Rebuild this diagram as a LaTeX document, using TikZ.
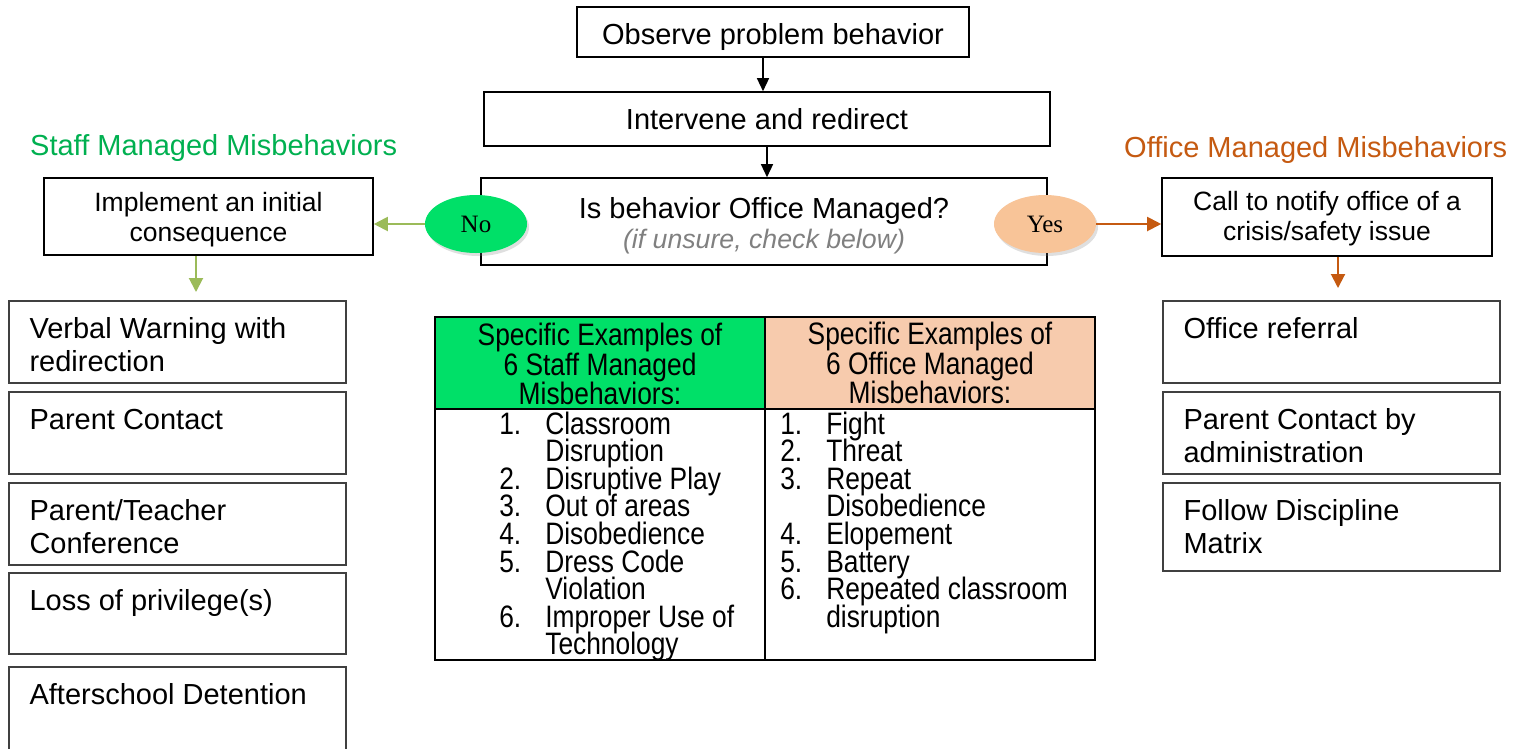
\documentclass[tikz,border=0pt]{standalone}
\usepackage{fontspec}
\setmainfont{Liberation Sans}
\newfontfamily\timesfont{Liberation Serif}
\newfontfamily\narrowfont{Liberation Sans}[FakeStretch=0.85]
\usetikzlibrary{arrows.meta,shadows,shapes.geometric}

\definecolor{nogreen}{RGB}{0,224,104}
\definecolor{yespeach}{RGB}{248,196,152}
\definecolor{hdrpeach}{RGB}{247,203,173}
\definecolor{oliveline}{RGB}{155,187,89}
\definecolor{rust}{RGB}{197,90,17}
\definecolor{staffgreen}{RGB}{0,176,80}
\definecolor{boxgray}{RGB}{64,64,64}
\definecolor{notegray}{RGB}{128,128,128}

% hanging-indent helpers for the numbered lists
\newcommand\num[1]{\makebox[46pt][l]{#1}}
\newcommand\cont{\hspace*{46pt}}
% fixed line pitch inside the parboxes
\newcommand\tabsetup{\narrowfont\fontsize{31}{27.6}\selectfont\lineskiplimit=-50pt\lineskip=0pt}
\newcommand\boxsetup{\fontsize{29}{33}\selectfont\lineskiplimit=-50pt\lineskip=0pt}

\begin{document}
\begin{tikzpicture}[x=1pt,y=-1pt,
  flowbox/.style={draw=black, line width=1.6pt, fill=white, inner sep=0pt},
  listbox/.style={draw=boxgray, line width=1.3pt, inner sep=0pt, minimum width=337pt},
  cellbox/.style={draw=black, line width=1.8pt, inner sep=0pt, minimum width=330pt},
  bigtext/.style={font=\fontsize{29}{33}\selectfont},
  midtext/.style={inner sep=0pt, font=\fontsize{26.5}{30}\selectfont, align=center},
  listtext/.style={anchor=base west, inner sep=0pt},
  tabtext/.style={inner sep=0pt},
  choice/.style={ellipse, minimum width=102pt, minimum height=58pt, inner sep=0pt,
    font=\timesfont\fontsize{25}{25}\selectfont,
    drop shadow={opacity=0.25, shadow xshift=2pt, shadow yshift=-3pt}},
  blackarrow/.style={draw=black, line width=1.4pt, -{Triangle[length=13pt,width=12pt]}},
  olivearrow/.style={draw=oliveline, line width=2pt, -{Triangle[length=14pt,width=14pt]}},
  rustarrow/.style={draw=rust, line width=2pt, -{Triangle[length=14pt,width=14pt]}},
]
\useasboundingbox (0,0) rectangle (1529,748);

% main flow
\node[flowbox, bigtext, minimum width=392pt, minimum height=50pt, text height=26pt, text depth=2pt] (obs) at (773,32) {Observe problem behavior};
\node[flowbox, bigtext, minimum width=566pt, minimum height=54pt] (intv) at (767,119) {Intervene and redirect};
\node[flowbox, minimum width=566pt, minimum height=87pt] (dec) at (764,221.5) {};
\node[inner sep=0pt, align=center] (dectxt) at ([yshift=-4.5pt]dec.center)
  {{\fontsize{29}{31}\selectfont Is behavior Office Managed?}\\[4pt]
   {\fontsize{26.7}{31}\selectfont\itshape\color{notegray}(if unsure, check below)}};

\draw[blackarrow] ([xshift=-10pt]obs.south) -- ([xshift=-10pt]obs.south |- intv.north);
\draw[blackarrow] (intv.south) -- (intv.south |- dec.north);

% choices
\node[choice, fill=nogreen] (no) at (476,224) {No};
\node[choice, fill=yespeach] (yes) at (1045,224) {Yes};

% staff managed branch
\node[anchor=west, inner sep=0pt, font=\fontsize{29}{33}\selectfont, text=staffgreen] (stafflbl) at (30,148) {Staff Managed Misbehaviors};
\node[flowbox, minimum width=329pt, minimum height=77pt] (impl) at (208.5,216.5) {};
\node[midtext] (impltxt) at ([yshift=-3pt]impl.center) {Implement an initial\\consequence};
\draw[olivearrow] (no.west) -- (no.west -| impl.east);
\coordinate (implend) at (196,292);
\draw[olivearrow] (impl.south -| implend) -- (implend);

% office managed branch
\node[anchor=west, inner sep=0pt, font=\fontsize{29}{33}\selectfont, text=rust] (officelbl) at (1124,150) {Office Managed Misbehaviors};
\node[flowbox, minimum width=330pt, minimum height=78pt] (call) at (1327,217) {};
\node[midtext] (calltxt) at ([yshift=-2pt]call.center) {Call to notify office of a\\crisis/safety issue};
\draw[rustarrow] (yes.east) -- (yes.east -| call.west);
\coordinate (callend) at (1338,288);
\draw[rustarrow] (call.south -| callend) -- (callend);

% staff consequences
\node[listbox, minimum height=82pt] (lb1) at (177.5,342) {};
\node[listbox, minimum height=82pt] (lb2) at (177.5,433) {};
\node[listbox, minimum height=82pt] (lb3) at (177.5,524) {};
\node[listbox, minimum height=81pt] (lb4) at (177.5,613.5) {};
\node[listbox, minimum height=93pt] (lb5) at (177.5,713.5) {};
\node[listtext] (lt1) at ([xshift=21pt,yshift=-38pt]lb1.north west) {\parbox[t]{310pt}{\boxsetup Verbal Warning with\\redirection}};
\node[listtext] (lt2) at ([xshift=21pt,yshift=-38pt]lb2.north west) {\parbox[t]{310pt}{\boxsetup Parent Contact}};
\node[listtext] (lt3) at ([xshift=21pt,yshift=-38pt]lb3.north west) {\parbox[t]{310pt}{\boxsetup Parent/Teacher\\Conference}};
\node[listtext] (lt4) at ([xshift=21pt,yshift=-38pt]lb4.north west) {\parbox[t]{310pt}{\boxsetup Loss of privilege(s)}};
\node[listtext] (lt5) at ([xshift=21pt,yshift=-38pt]lb5.north west) {\parbox[t]{310pt}{\boxsetup Afterschool Detention}};

% office consequences
\node[listbox, minimum height=82pt] (rb1) at (1331.5,342) {};
\node[listbox, minimum height=82pt] (rb2) at (1331.5,433) {};
\node[listbox, minimum height=88pt] (rb3) at (1331.5,527) {};
\node[listtext] (rt1) at ([xshift=21pt,yshift=-38pt]rb1.north west) {\parbox[t]{310pt}{\boxsetup Office referral}};
\node[listtext] (rt2) at ([xshift=21pt,yshift=-38pt]rb2.north west) {\parbox[t]{310pt}{\boxsetup Parent Contact by\\administration}};
\node[listtext] (rt3) at ([xshift=21pt,yshift=-38pt]rb3.north west) {\parbox[t]{310pt}{\boxsetup Follow Discipline\\Matrix}};

% examples table
\node[cellbox, fill=nogreen, minimum height=92pt] (hdrL) at (600,363) {};
\node[cellbox, fill=hdrpeach, minimum height=92pt] (hdrR) at (930,363) {};
\node[cellbox, minimum height=251pt] (bodyL) at (600,534.5) {};
\node[cellbox, minimum height=251pt] (bodyR) at (930,534.5) {};
\node[tabtext, align=center, font={\narrowfont\fontsize{31}{28}\selectfont}] (hdrLtxt) at ([yshift=-1pt]hdrL.center) {Specific Examples of\\6 Staff Managed\\Misbehaviors:};
\node[tabtext, align=center, font={\narrowfont\fontsize{31}{29.5}\selectfont}] (hdrRtxt) at (hdrR.center) {Specific Examples of\\6 Office Managed\\Misbehaviors:};
\node[tabtext, anchor=base west] (staffitems) at ([xshift=65pt,yshift=-26pt]bodyL.north west)
  {\parbox[t]{260pt}{\tabsetup
   \num{1.}Classroom\\
   \cont Disruption\\
   \num{2.}Disruptive Play\\
   \num{3.}Out of areas\\
   \num{4.}Disobedience\\
   \num{5.}Dress Code\\
   \cont Violation\\
   \num{6.}Improper Use of\\
   \cont Technology}};
\node[tabtext, anchor=base west] (officeitems) at ([xshift=16pt,yshift=-26pt]bodyR.north west)
  {\parbox[t]{310pt}{\tabsetup
   \num{1.}Fight\\
   \num{2.}Threat\\
   \num{3.}Repeat\\
   \cont Disobedience\\
   \num{4.}Elopement\\
   \num{5.}Battery\\
   \num{6.}Repeated classroom\\
   \cont disruption}};
\end{tikzpicture}
\end{document}
